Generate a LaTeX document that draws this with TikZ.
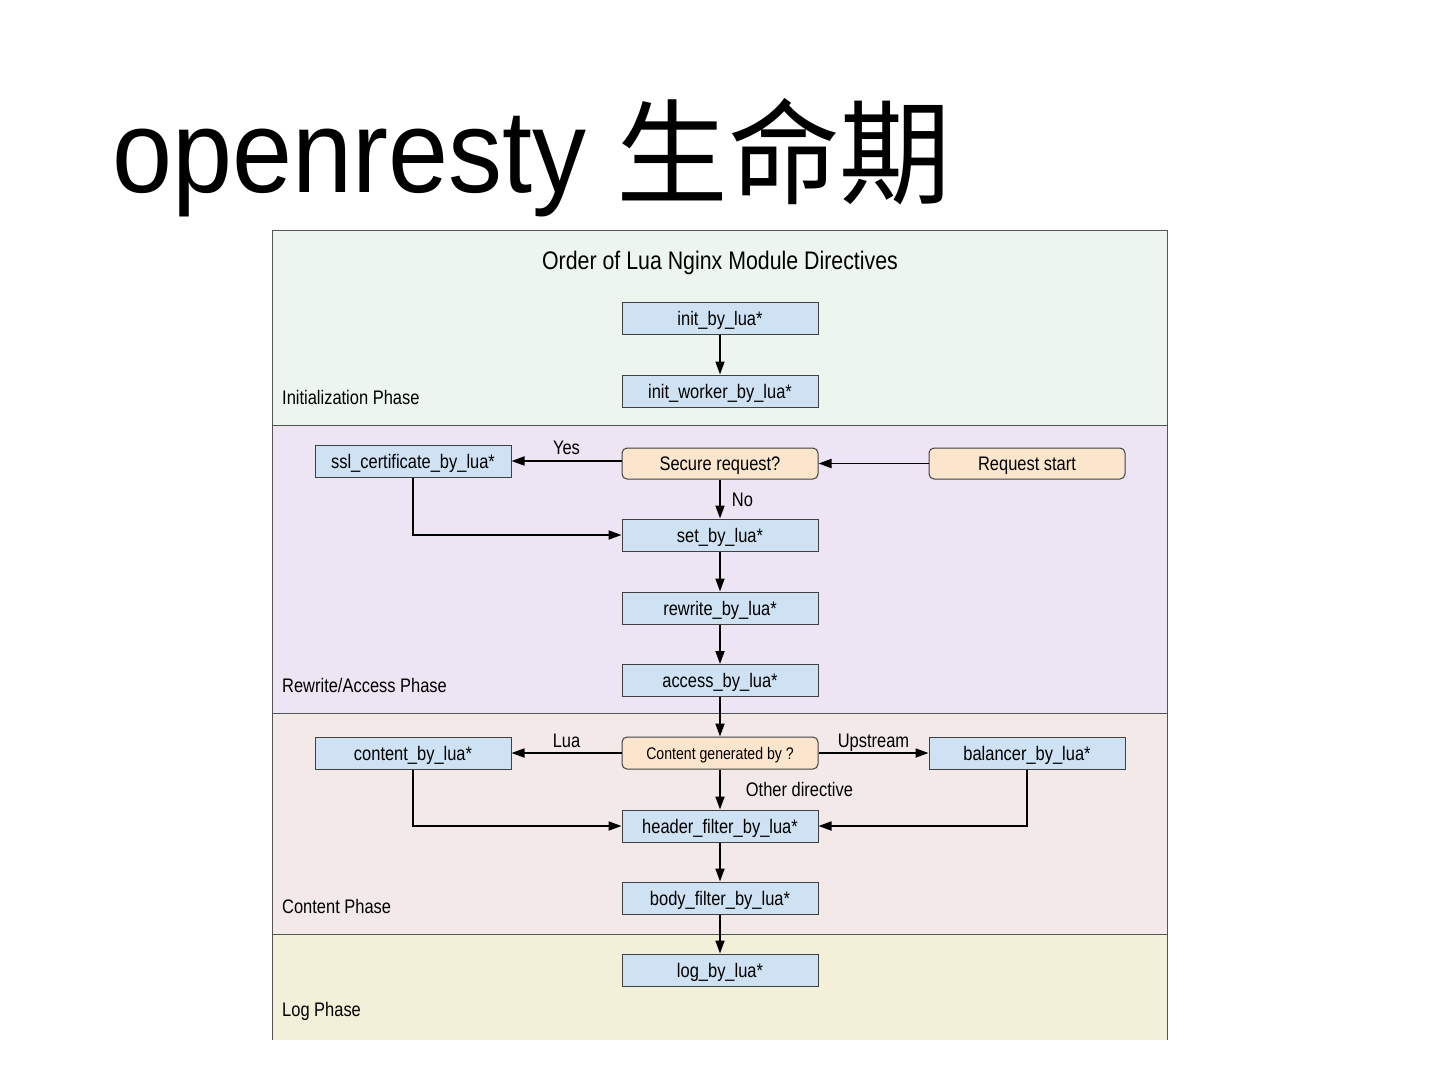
\documentclass[tikz,border=0pt]{standalone}
\usepackage{fontspec}
\setmainfont{Liberation Sans}[FakeStretch=0.84]
\newfontfamily\titlefont{Liberation Sans}[FakeStretch=0.915]
\newfontfamily\cjk{Noto Sans CJK SC}[FakeStretch=0.98]
\usetikzlibrary{arrows.meta}
\definecolor{initbg}{HTML}{EDF6EE}
\definecolor{rwbg}{HTML}{EDE5F3}
\definecolor{ctbg}{HTML}{F3E9E9}
\definecolor{logbg}{HTML}{F2F0D9}
\definecolor{bluebox}{HTML}{CFE2F3}
\definecolor{orangebox}{HTML}{FCE5CD}
\definecolor{frame}{HTML}{555555}
\definecolor{boxline}{HTML}{404040}
\tikzset{
  dirbox/.style={draw=boxline, line width=1pt, fill=bluebox, minimum width=196pt, minimum height=32pt, inner sep=0pt, text height=14.5pt, text depth=0pt, font=\fontsize{19.6}{22}\selectfont},
  decbox/.style={draw=boxline, line width=1pt, fill=orangebox, rounded corners=5pt, minimum width=196pt, minimum height=31pt, inner sep=0pt, text height=14.5pt, text depth=0pt, font=\fontsize{19.6}{22}\selectfont},
  arr/.style={line width=1.8pt, -{Triangle[length=13pt,width=9pt]}},
  lbl/.style={font=\fontsize{19.6}{22}\selectfont, inner sep=2pt, text height=14pt, text depth=0pt},
  phase/.style={font=\fontsize{19.6}{22}\selectfont, anchor=west, inner sep=0pt},
}
\begin{document}
\begin{tikzpicture}[x=1pt,y=-1pt]
\fill[white] (0,0) rectangle (1440,1080);
\useasboundingbox (0,0) rectangle (1440,1080);
% title
\node[anchor=base west, inner sep=0pt] (title) at (112,192) {\titlefont\fontsize{118}{130}\selectfont openresty \raisebox{-3.5pt}{\cjk\fontsize{114}{130}\selectfont 生命期}};
% phase backgrounds
\fill[initbg] (272,230) rectangle (1167,425);
\fill[rwbg] (272,425) rectangle (1167,713);
\fill[ctbg] (272,713) rectangle (1167,934);
\fill[logbg] (272,934) rectangle (1167,1040);
\draw[frame, line width=1pt] (272,1040) -- (272,230) -- (1167,230) -- (1167,1040);
\draw[frame, line width=1pt] (272,425) -- (1167,425);
\draw[frame, line width=1pt] (272,713) -- (1167,713);
\draw[frame, line width=1pt] (272,934) -- (1167,934);
% headings
\node[font=\fontsize{25.4}{28}\selectfont] (order) at (720,263) {Order of Lua Nginx Module Directives};
\node[phase] (pinit) at (282,397) {Initialization Phase};
\node[phase] (prw) at (282,685) {Rewrite/Access Phase};
\node[phase] (pct) at (282,906) {Content Phase};
\node[phase] (plog) at (282,1011) {Log Phase};
% nodes
\node[dirbox] (init) at (720,318) {init\_by\_lua*};
\node[dirbox] (initw) at (720,391) {init\_worker\_by\_lua*};
\node[dirbox] (ssl) at (413,461) {ssl\_certificate\_by\_lua*};
\node[decbox] (secure) at (720,463.5) {Secure request?};
\node[decbox] (reqstart) at (1027,463.5) {Request start};
\node[dirbox] (set) at (720,535) {set\_by\_lua*};
\node[dirbox] (rewrite) at (720,608) {rewrite\_by\_lua*};
\node[dirbox] (access) at (720,680.5) {access\_by\_lua*};
\node[dirbox] (content) at (413,753) {content\_by\_lua*};
\node[decbox, minimum height=32pt, text height=12.5pt, font=\fontsize{16.8}{19}\selectfont] (cgen) at (720,753) {Content generated by ?};
\node[dirbox] (balancer) at (1027,753) {balancer\_by\_lua*};
\node[dirbox] (header) at (720,826) {header\_filter\_by\_lua*};
\node[dirbox] (body) at (720,898) {body\_filter\_by\_lua*};
\node[dirbox] (log) at (720,970) {log\_by\_lua*};
% connectors
\draw[arr] (init) -- (initw);
\draw[arr] (reqstart) -- (secure);
\draw[arr] (secure.west |- ssl.east) -- node[lbl, above, yshift=4pt] {Yes} (ssl.east);
\draw[arr] (secure) -- node[lbl, right, xshift=9pt] {No} (set);
\draw[arr] (ssl.south) |- (set.west);
\draw[arr] (set) -- (rewrite);
\draw[arr] (rewrite) -- (access);
\draw[arr] (access) -- (cgen);
\draw[arr] (cgen) -- node[lbl, above, yshift=3pt] {Lua} (content);
\draw[arr] (cgen) -- node[lbl, above, yshift=3pt] {Upstream} (balancer);
\draw[arr] (cgen) -- node[lbl, right, xshift=23pt] {Other directive} (header);
\draw[arr] (content.south) |- (header.west);
\draw[arr] (balancer.south) |- (header.east);
\draw[arr] (header) -- (body);
\draw[arr] (body) -- (log);
\end{tikzpicture}
\end{document}
